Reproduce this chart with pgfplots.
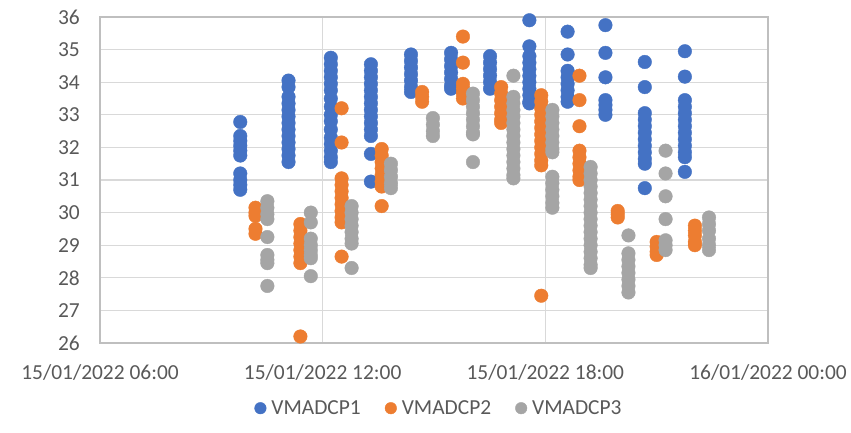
\documentclass[border=0pt]{standalone}
\usepackage{pgfplots}
\pgfplotsset{compat=1.18}
\usepackage{fontspec}
\setmainfont{Carlito}
\definecolor{cb}{HTML}{4472C4}
\definecolor{co}{HTML}{ED7D31}
\definecolor{cg}{HTML}{A5A5A5}
\definecolor{gridc}{HTML}{D9D9D9}
\definecolor{axc}{HTML}{BFBFBF}
\definecolor{txt}{HTML}{595959}
\begin{document}
\begin{tikzpicture}
\begin{axis}[
  scale only axis,
  width=668bp, height=326bp,
  xmin=6, xmax=24, ymin=26, ymax=36,
  xtick={6,12,18,24},
  xticklabels={15/01/2022 06:00,15/01/2022 12:00,15/01/2022 18:00,16/01/2022 00:00},
  ytick={26,27,...,36},
  major tick length=0pt,
  xmajorgrids, ymajorgrids,
  grid style={gridc, line width=1.1bp},
  axis line style={axc, line width=1.1bp},
  ticklabel style={font=\fontsize{21.5}{24}\selectfont, text=txt, inner sep=0pt},
  xticklabel style={anchor=north, yshift=-21bp},
  yticklabel style={anchor=east, xshift=-20bp},
  /pgf/number format/assume math mode=true,
  legend style={at={(0.506,-0.2)}, anchor=center, draw=none, fill=none,
    legend columns=3, font=\fontsize{21.5}{24}\selectfont, text=txt,
    nodes={inner sep=0pt},
    /tikz/every odd column/.append style={column sep=5bp},
    /tikz/every even column/.append style={column sep=24bp},
    legend cell align=left},
  legend image code/.code={\path[fill=none,draw=none] (-6bp,-6bp) rectangle (6bp,6bp);\draw[#1,mark size=5.8bp] plot coordinates {(0bp,0bp)};},
  clip=false,
]
% VMADCP1
\addplot[only marks, mark=*, mark size=6.8bp, draw=cb, fill=cb] table {
x y
9.78 32.78
9.78 32.35
9.78 32.2
9.78 32.05
9.78 31.9
9.78 31.75
9.78 31.2
9.78 31.0
9.78 30.85
9.78 30.7
11.08 34.05
11.08 33.85
11.08 33.55
11.08 33.35
11.08 33.15
11.08 32.95
11.08 32.75
11.08 32.55
11.08 32.35
11.08 32.15
11.08 31.95
11.08 31.75
11.08 31.55
12.22 34.75
12.22 34.55
12.22 34.35
12.22 34.15
12.22 33.95
12.22 33.75
12.22 33.5
12.22 33.25
12.22 33.0
12.22 32.8
12.22 32.55
12.22 32.3
12.22 32.1
12.22 31.9
12.22 31.7
12.22 31.55
13.30 34.55
13.30 34.35
13.30 34.15
13.30 33.95
13.30 33.75
13.30 33.55
13.30 33.35
13.30 33.15
13.30 32.95
13.30 32.75
13.30 32.55
13.30 32.35
13.30 31.8
13.30 30.95
14.38 34.85
14.38 34.65
14.38 34.45
14.38 34.25
14.38 34.05
14.38 33.85
14.38 33.7
15.46 34.9
15.46 34.7
15.46 34.5
15.46 34.3
15.46 34.1
15.46 33.9
15.46 33.8
16.51 34.8
16.51 34.6
16.51 34.4
16.51 34.2
16.51 34.0
16.51 33.8
17.57 35.9
17.57 35.1
17.57 34.8
17.57 34.6
17.57 34.4
17.57 34.2
17.57 34.0
17.57 33.8
17.57 33.6
17.57 33.4
17.57 33.35
18.60 35.55
18.60 34.85
18.60 34.35
18.60 34.15
18.60 33.95
18.60 33.75
18.60 33.55
18.60 33.4
19.62 35.75
19.62 34.9
19.62 34.15
19.62 33.45
19.62 33.3
19.62 33.15
19.62 33.0
20.68 34.62
20.68 33.85
20.68 33.05
20.68 32.85
20.68 32.65
20.68 32.45
20.68 32.25
20.68 32.05
20.68 31.85
20.68 31.65
20.68 31.5
20.68 30.75
21.76 34.95
21.76 34.17
21.76 33.45
21.76 33.25
21.76 33.05
21.76 32.85
21.76 32.65
21.76 32.45
21.76 32.25
21.76 32.05
21.76 31.85
21.76 31.7
21.76 31.25
};
\addlegendentry{VMADCP1}
% VMADCP2
\addplot[only marks, mark=*, mark size=6.8bp, draw=co, fill=co] table {
x y
10.19 30.15
10.19 30.0
10.19 29.9
10.19 29.5
10.19 29.35
11.40 29.65
11.40 29.45
11.40 29.25
11.40 29.05
11.40 28.85
11.40 28.65
11.40 28.45
11.40 26.2
12.51 33.2
12.51 32.15
12.51 31.05
12.51 30.85
12.51 30.65
12.51 30.45
12.51 30.25
12.51 30.05
12.51 29.85
12.51 29.7
12.51 28.65
13.59 31.95
13.59 31.75
13.59 31.55
13.59 31.35
13.59 31.15
13.59 30.95
13.59 30.8
13.59 30.2
14.68 33.7
14.68 33.55
14.68 33.4
15.78 35.4
15.78 34.6
15.78 33.95
15.78 33.8
15.78 33.65
15.78 33.5
16.81 33.85
16.81 33.65
16.81 33.45
16.81 33.25
16.81 33.05
16.81 32.85
16.81 32.75
17.89 33.6
17.89 33.4
17.89 33.2
17.89 33.0
17.89 32.8
17.89 32.6
17.89 32.4
17.89 32.2
17.89 32.0
17.89 31.8
17.89 31.6
17.89 31.45
17.89 27.45
18.92 34.2
18.92 33.45
18.92 32.65
18.92 31.9
18.92 31.7
18.92 31.5
18.92 31.3
18.92 31.1
18.92 31.0
19.95 30.05
19.95 29.95
19.95 29.85
21.00 29.1
21.00 28.95
21.00 28.8
21.00 28.7
22.03 29.6
22.03 29.45
22.03 29.3
22.03 29.1
22.03 29.0
};
\addlegendentry{VMADCP2}
% VMADCP3
\addplot[only marks, mark=*, mark size=6.8bp, draw=cg, fill=cg] table {
x y
10.51 30.35
10.51 30.15
10.51 29.95
10.51 29.8
10.51 29.25
10.51 28.7
10.51 28.55
10.51 28.45
10.51 27.75
11.68 30.0
11.68 29.7
11.68 29.2
11.68 29.0
11.68 28.85
11.68 28.7
11.68 28.6
11.68 28.05
12.78 30.2
12.78 30.0
12.78 29.8
12.78 29.6
12.78 29.4
12.78 29.2
12.78 29.05
12.78 28.3
13.84 31.5
13.84 31.3
13.84 31.1
13.84 30.9
13.84 30.75
14.97 32.9
14.97 32.7
14.97 32.5
14.97 32.35
16.05 33.65
16.05 33.45
16.05 33.25
16.05 33.05
16.05 32.85
16.05 32.65
16.05 32.45
16.05 32.4
16.05 31.55
17.14 34.2
17.14 33.55
17.14 33.35
17.14 33.15
17.14 32.95
17.14 32.75
17.14 32.55
17.14 32.35
17.14 32.15
17.14 31.95
17.14 31.75
17.14 31.55
17.14 31.35
17.14 31.15
17.14 31.05
18.19 33.15
18.19 32.95
18.19 32.75
18.19 32.55
18.19 32.35
18.19 32.15
18.19 31.95
18.19 31.85
18.19 31.1
18.19 30.9
18.19 30.7
18.19 30.5
18.19 30.3
18.19 30.15
19.22 31.4
19.22 31.2
19.22 31.0
19.22 30.8
19.22 30.6
19.22 30.4
19.22 30.2
19.22 30.0
19.22 29.8
19.22 29.6
19.22 29.4
19.22 29.2
19.22 29.0
19.22 28.8
19.22 28.6
19.22 28.4
19.22 28.3
20.24 29.3
20.24 28.75
20.24 28.55
20.24 28.35
20.24 28.15
20.24 27.95
20.24 27.75
20.24 27.55
21.24 31.9
21.24 31.2
21.24 30.5
21.24 29.8
21.24 29.15
21.24 29.0
21.24 28.85
22.41 29.85
22.41 29.65
22.41 29.45
22.41 29.2
22.41 29.0
22.41 28.85
};
\addlegendentry{VMADCP3}
\end{axis}
\pgfresetboundingbox
\path ([xshift=-100bp,yshift=-90bp]current axis.south west) rectangle ([xshift=83bp,yshift=17bp]current axis.north east);
\end{tikzpicture}
\end{document}
